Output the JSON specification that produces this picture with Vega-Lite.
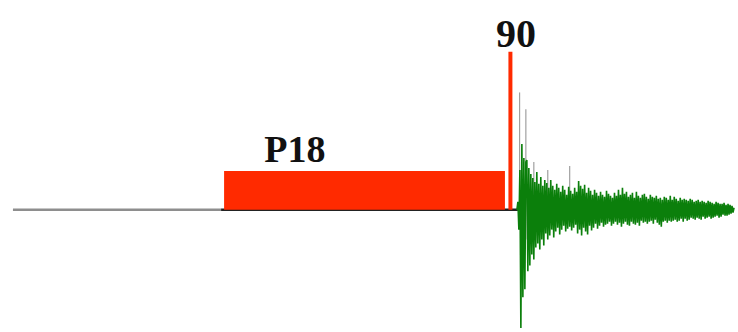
{
  "$schema": "https://vega.github.io/schema/vega-lite/v6.json",
  "autosize": {"type": "fit", "contains": "padding"},
  "width": 738,
  "height": 332,
  "padding": 0,
  "background": "white",
  "config": {"view": {"stroke": null}},
  "datasets": {
    "base": [
      {"x1": 13, "x2": 222, "level": 0, "seg": "pre"},
      {"x1": 222, "x2": 520, "level": 0, "seg": "under"}
    ],
    "bars": [
      {"x1": 225, "x2": 507, "bottom": 0, "top": 39, "name": "P18"},
      {"x1": 510.5, "x2": 514.5, "bottom": 0, "top": 159, "name": "90"}
    ],
    "labels": [
      {"x": 296, "y": 48, "text": "P18", "size": 38},
      {"x": 518, "y": 164, "text": "90", "size": 40}
    ],
    "spikes": [
      {"x": 521.7, "bottom": -20, "top": 118},
      {"x": 528, "bottom": -30, "top": 101},
      {"x": 536, "bottom": -20, "top": 48},
      {"x": 550, "bottom": -15, "top": 40},
      {"x": 572, "bottom": -15, "top": 44}
    ],
    "wave": [
      {"t":519,"a":0},{"t":520,"a":8},{"t":521,"a":-20},{"t":522,"a":40},{"t":523,"a":-119},{"t":524,"a":66},{"t":525,"a":-88},{"t":526,"a":52},{"t":527,"a":-80},{"t":528,"a":48},
      {"t":529,"a":50},{"t":530,"a":-62},{"t":531,"a":42},{"t":532,"a":-56},{"t":533,"a":36},{"t":534,"a":-45},{"t":535,"a":32},{"t":536,"a":-50},{"t":537,"a":28},{"t":538,"a":-38},
      {"t":539,"a":38},{"t":540,"a":-34},{"t":541,"a":26},{"t":542,"a":-40},{"t":543,"a":33},{"t":544,"a":-30},{"t":545,"a":24},{"t":546,"a":-36},{"t":547,"a":30},{"t":548,"a":-24},
      {"t":549,"a":27},{"t":550,"a":-30},{"t":551,"a":22},{"t":552,"a":-26},{"t":553,"a":30},{"t":554,"a":-20},{"t":555,"a":24},{"t":556,"a":-28},{"t":557,"a":20},{"t":558,"a":-22},
      {"t":559,"a":26},{"t":560,"a":-18},{"t":561,"a":22},{"t":562,"a":-25},{"t":563,"a":18},{"t":564,"a":-20},{"t":565,"a":24},{"t":566,"a":-16},{"t":567,"a":20},{"t":568,"a":-22},
      {"t":569,"a":15},{"t":570,"a":-19},{"t":571,"a":23},{"t":572,"a":-17},{"t":573,"a":19},{"t":574,"a":-21},{"t":575,"a":16},{"t":576,"a":-18},{"t":577,"a":22},{"t":578,"a":-15},
      {"t":579,"a":18},{"t":580,"a":-24},{"t":581,"a":29},{"t":582,"a":-20},{"t":583,"a":24},{"t":584,"a":-26},{"t":585,"a":21},{"t":586,"a":-18},{"t":587,"a":25},{"t":588,"a":-22},
      {"t":589,"a":17},{"t":590,"a":-25},{"t":591,"a":22},{"t":592,"a":-16},{"t":593,"a":19},{"t":594,"a":-21},{"t":595,"a":15},{"t":596,"a":-18},{"t":597,"a":20},{"t":598,"a":-14},
      {"t":599,"a":17},{"t":600,"a":-19},{"t":601,"a":14},{"t":602,"a":-16},{"t":603,"a":18},{"t":604,"a":-13},{"t":605,"a":15},{"t":606,"a":-17},{"t":607,"a":13},{"t":608,"a":-15},
      {"t":609,"a":19},{"t":610,"a":-14},{"t":611,"a":16},{"t":612,"a":-12},{"t":613,"a":14},{"t":614,"a":-16},{"t":615,"a":12},{"t":616,"a":-14},{"t":617,"a":17},{"t":618,"a":-12},
      {"t":619,"a":14},{"t":620,"a":-15},{"t":621,"a":20},{"t":622,"a":-13},{"t":623,"a":15},{"t":624,"a":-17},{"t":625,"a":22},{"t":626,"a":-14},{"t":627,"a":16},{"t":628,"a":-12},
      {"t":629,"a":18},{"t":630,"a":-15},{"t":631,"a":13},{"t":632,"a":-16},{"t":633,"a":15},{"t":634,"a":-12},{"t":635,"a":17},{"t":636,"a":-14},{"t":637,"a":12},{"t":638,"a":-15},
      {"t":639,"a":18},{"t":640,"a":-13},{"t":641,"a":14},{"t":642,"a":-16},{"t":643,"a":12},{"t":644,"a":-11},{"t":645,"a":15},{"t":646,"a":-13},{"t":647,"a":16},{"t":648,"a":-12},
      {"t":649,"a":13},{"t":650,"a":-14},{"t":651,"a":11},{"t":652,"a":-12},{"t":653,"a":15},{"t":654,"a":-11},{"t":655,"a":13},{"t":656,"a":-14},{"t":657,"a":12},{"t":658,"a":-10},
      {"t":659,"a":14},{"t":660,"a":-13},{"t":661,"a":11},{"t":662,"a":-15},{"t":663,"a":12},{"t":664,"a":-17},{"t":665,"a":10},{"t":666,"a":-12},{"t":667,"a":13},{"t":668,"a":-11},
      {"t":669,"a":12},{"t":670,"a":-13},{"t":671,"a":10},{"t":672,"a":-11},{"t":673,"a":14},{"t":674,"a":-12},{"t":675,"a":10},{"t":676,"a":-11},{"t":677,"a":13},{"t":678,"a":-10},
      {"t":679,"a":11},{"t":680,"a":-12},{"t":681,"a":9},{"t":682,"a":-11},{"t":683,"a":12},{"t":684,"a":-9},{"t":685,"a":10},{"t":686,"a":-12},{"t":687,"a":11},{"t":688,"a":-9},
      {"t":689,"a":10},{"t":690,"a":-11},{"t":691,"a":9},{"t":692,"a":-10},{"t":693,"a":11},{"t":694,"a":-8},{"t":695,"a":10},{"t":696,"a":-9},{"t":697,"a":8},{"t":698,"a":-10},
      {"t":699,"a":9},{"t":700,"a":-8},{"t":701,"a":10},{"t":702,"a":-9},{"t":703,"a":8},{"t":704,"a":-10},{"t":705,"a":9},{"t":706,"a":-7},{"t":707,"a":8},{"t":708,"a":-9},
      {"t":709,"a":7},{"t":710,"a":-8},{"t":711,"a":9},{"t":712,"a":-7},{"t":713,"a":8},{"t":714,"a":-9},{"t":715,"a":7},{"t":716,"a":-8},{"t":717,"a":6},{"t":718,"a":-7},
      {"t":719,"a":8},{"t":720,"a":-6},{"t":721,"a":7},{"t":722,"a":-8},{"t":723,"a":6},{"t":724,"a":-7},{"t":725,"a":6},{"t":726,"a":-5},{"t":727,"a":7},{"t":728,"a":-6},
      {"t":729,"a":5},{"t":730,"a":-6},{"t":731,"a":6},{"t":732,"a":-5},{"t":733,"a":5},{"t":734,"a":-4},{"t":735,"a":4},{"t":736,"a":-3},{"t":737,"a":2}
    ]
  },
  "layer": [
    {
      "data": {"name": "base"},
      "mark": {"type": "rule", "strokeWidth": 2.5},
      "encoding": {
        "x": {"field": "x1", "type": "quantitative", "scale": {"domain": [0, 738], "nice": false, "zero": false}, "axis": null},
        "x2": {"field": "x2"},
        "y": {"field": "level", "type": "quantitative", "scale": {"domain": [-121, 211], "nice": false, "zero": false}, "axis": null},
        "color": {"field": "seg", "type": "nominal", "scale": {"domain": ["pre", "under"], "range": ["#8e8e8e", "#222222"]}, "legend": null}
      }
    },
    {
      "data": {"name": "bars"},
      "mark": {"type": "rect", "color": "#ff2a00"},
      "encoding": {
        "x": {"field": "x1", "type": "quantitative", "scale": {"domain": [0, 738], "nice": false, "zero": false}, "axis": null},
        "x2": {"field": "x2"},
        "y": {"field": "bottom", "type": "quantitative", "scale": {"domain": [-121, 211], "nice": false, "zero": false}, "axis": null},
        "y2": {"field": "top"}
      }
    },
    {
      "data": {"name": "spikes"},
      "mark": {"type": "rule", "color": "#a0a0a0", "strokeWidth": 1.2},
      "encoding": {
        "x": {"field": "x", "type": "quantitative", "scale": {"domain": [0, 738], "nice": false, "zero": false}, "axis": null},
        "y": {"field": "bottom", "type": "quantitative", "scale": {"domain": [-121, 211], "nice": false, "zero": false}, "axis": null},
        "y2": {"field": "top"}
      }
    },
    {
      "data": {"name": "wave"},
      "mark": {"type": "line", "color": "#0b7f0b", "strokeWidth": 1.6},
      "encoding": {
        "x": {"field": "t", "type": "quantitative", "scale": {"domain": [0, 738], "nice": false, "zero": false}, "axis": null},
        "y": {"field": "a", "type": "quantitative", "scale": {"domain": [-121, 211], "nice": false, "zero": false}, "axis": null}
      }
    },
    {
      "data": {"name": "labels"},
      "mark": {"type": "text", "font": "Liberation Serif", "fontWeight": "bold", "align": "center", "baseline": "alphabetic", "color": "#111111"},
      "encoding": {
        "x": {"field": "x", "type": "quantitative", "scale": {"domain": [0, 738], "nice": false, "zero": false}, "axis": null},
        "y": {"field": "y", "type": "quantitative", "scale": {"domain": [-121, 211], "nice": false, "zero": false}, "axis": null},
        "text": {"field": "text", "type": "nominal"},
        "size": {"field": "size", "type": "quantitative", "scale": null, "legend": null}
      }
    }
  ]
}
